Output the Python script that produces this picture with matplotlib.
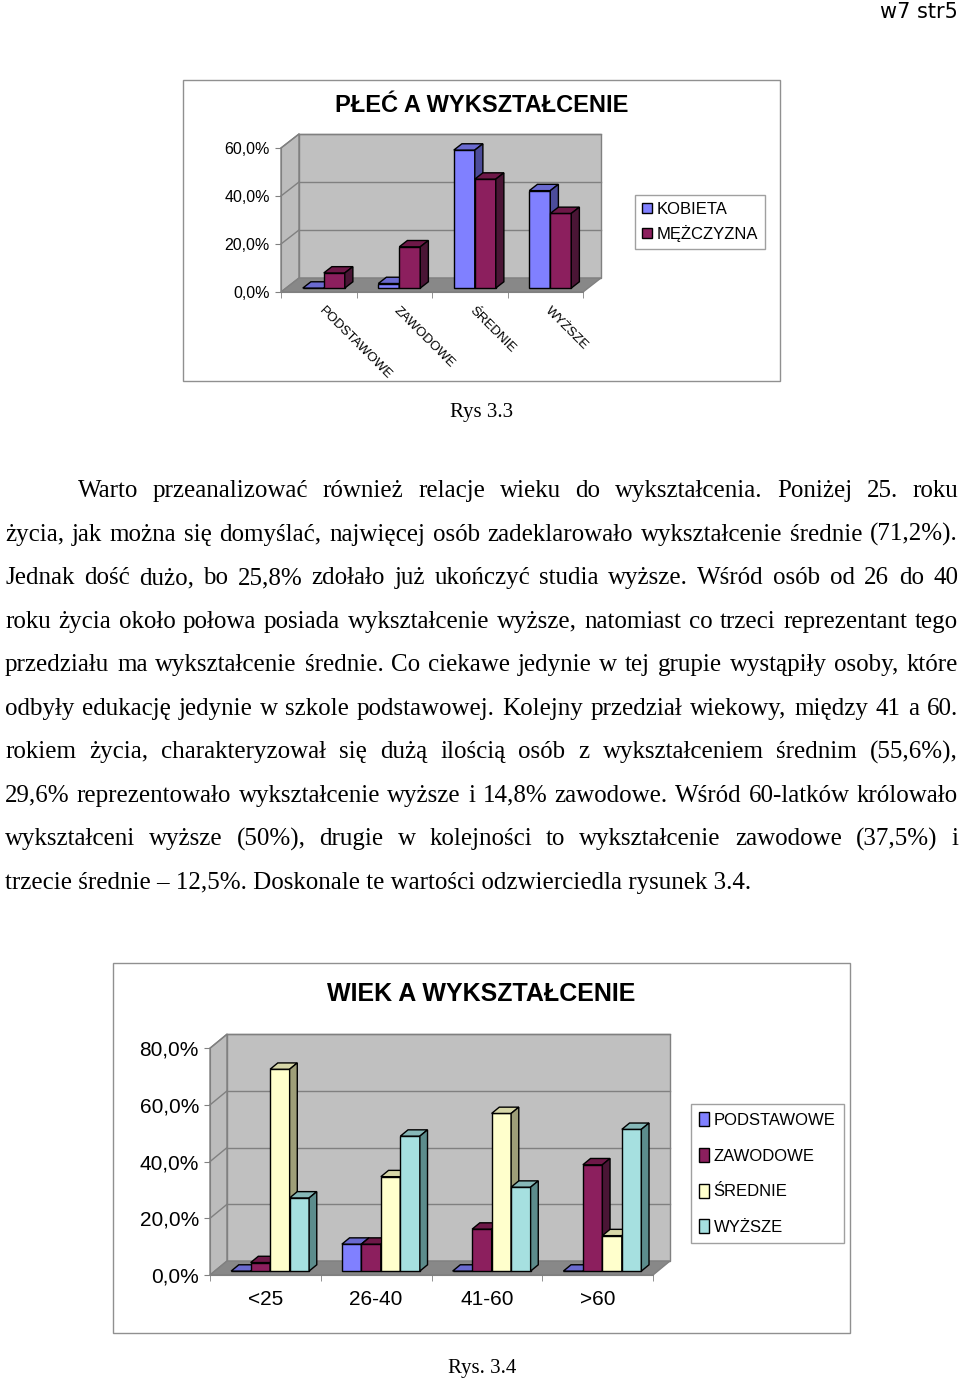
import matplotlib
matplotlib.use('Agg')
import matplotlib.pyplot as plt
from matplotlib.patches import Polygon, Rectangle

# DATA
edu_cats = ['PODSTAWOWE', 'ZAWODOWE', 'ŚREDNIE', 'WYŻSZE']
gender_names = ['KOBIETA', 'MĘŻCZYZNA']
kobieta = [0.0, 1.9, 57.5, 40.6]
mezczyzna = [6.3, 17.2, 45.4, 31.1]

age_cats = ['<25', '26-40', '41-60', '>60']
age_names = ['PODSTAWOWE', 'ZAWODOWE', 'ŚREDNIE', 'WYŻSZE']
podstawowe = [0.0, 9.5, 0.0, 0.0]
zawodowe = [3.0, 9.5, 14.8, 37.5]
srednie = [71.2, 33.3, 55.6, 12.5]
wyzsze = [25.8, 47.6, 29.6, 50.0]

para_lines = [
    'Warto przeanalizować również relacje wieku do wykształcenia. Poniżej 25. roku',
    'życia, jak można się domyślać, najwięcej osób zadeklarowało wykształcenie średnie (71,2%).',
    'Jednak dość dużo, bo 25,8% zdołało już ukończyć studia wyższe. Wśród osób od 26 do 40',
    'roku życia około połowa posiada wykształcenie wyższe, natomiast co trzeci reprezentant tego',
    'przedziału ma wykształcenie średnie. Co ciekawe jedynie w tej grupie wystąpiły osoby, które',
    'odbyły edukację jedynie w szkole podstawowej. Kolejny przedział wiekowy, między 41 a 60.',
    'rokiem życia, charakteryzował się dużą ilością osób z wykształceniem średnim (55,6%),',
    '29,6% reprezentowało wykształcenie wyższe i 14,8% zawodowe. Wśród 60-latków królowało',
    'wykształceni wyższe (50%), drugie w kolejności to wykształcenie zawodowe (37,5%) i',
    'trzecie średnie – 12,5%. Doskonale te wartości odzwierciedla rysunek 3.4.',
]

# face colours: front, top, side
C_BLUE = ('#8080ff', '#6a6ad0', '#4c4c9a')
C_MAROON = ('#8c1f5e', '#6e1848', '#4a1535')
C_YELLOW = ('#ffffcc', '#d7d7a8', '#9e9e78')
C_CYAN = ('#a6e0e0', '#86b8b8', '#5c8c8c')

W, H = 960, 1381
plt.rc('font', family='Liberation Sans')
fig = plt.figure(figsize=(W / 100, H / 100), dpi=100)


def fx(px):
    return px / W


def fy(py):
    return 1 - py / H


def chart3d(x0, x1, y0, ppu, dxp, dyp, ymax, ystep, cats, series, colors,
            bw, tick_fs):
    n = len(cats)
    cw = (x1 - x0) / n
    dxu = dxp / cw
    dyu = dyp / ppu
    ax = fig.add_axes([fx(x0), fy(y0), (x1 - x0 + dxp) / W,
                       (ymax * ppu + dyp) / H])
    ax.set_xlim(-0.5, n - 0.5 + dxu)
    ax.set_ylim(0, ymax + dyu)
    ax.patch.set_visible(False)
    L, R = -0.5, n - 0.5
    # walls and floor
    ax.add_patch(Polygon([(L, 0), (L + dxu, dyu), (L + dxu, ymax + dyu), (L, ymax)],
                         fc='#bcbcbc', ec='#808080', lw=1, zorder=1, clip_on=False))
    ax.add_patch(Rectangle((L + dxu, dyu), n, ymax, fc='#c0c0c0', ec='#808080',
                           lw=1, zorder=1, clip_on=False))
    ax.add_patch(Polygon([(L, 0), (R, 0), (R + dxu, dyu), (L + dxu, dyu)],
                         fc='#888888', ec='#808080', lw=1, zorder=1.5, clip_on=False))
    ticks = list(range(0, int(ymax) + 1, ystep))
    for t in ticks[1:]:
        ax.plot([L + dxu, R + dxu], [t + dyu, t + dyu], color='#808080', lw=1,
                zorder=1.2, clip_on=False)
        ax.plot([L, L + dxu], [t, t + dyu], color='#808080', lw=1, zorder=1.2,
                clip_on=False)

    # bars: front, top, side
    f0, bd = 0.28, 0.45
    ns = len(series)
    z = 3
    for i in range(n):
        for s in range(ns):
            v = series[s][i]
            fc, tc, sc = colors[s]
            bx = i - ns * bw / 2 + s * bw + f0 * dxu
            by = f0 * dyu
            ax.add_patch(Rectangle((bx, by), bw, v, fc=fc, ec='black', lw=1,
                                   zorder=z, clip_on=False))
            ax.add_patch(Polygon([(bx, by + v), (bx + bw, by + v),
                                  (bx + bw + bd * dxu, by + v + bd * dyu),
                                  (bx + bd * dxu, by + v + bd * dyu)],
                                 fc=tc, ec='black', lw=1, zorder=z, clip_on=False))
            ax.add_patch(Polygon([(bx + bw, by), (bx + bw + bd * dxu, by + bd * dyu),
                                  (bx + bw + bd * dxu, by + v + bd * dyu),
                                  (bx + bw, by + v)],
                                 fc=sc, ec='black', lw=1, zorder=z, clip_on=False))
            z += 1

    for sp in ['top', 'right']:
        ax.spines[sp].set_visible(False)
    ax.spines['left'].set_bounds(0, ymax)
    ax.spines['bottom'].set_bounds(L, R)
    for sp in ['left', 'bottom']:
        ax.spines[sp].set_color('#808080')
        ax.spines[sp].set_zorder(2)
    ax.set_yticks(ticks, [f'{t:.1f}%'.replace('.', ',') for t in ticks])
    ax.tick_params(axis='y', length=4, color='#808080', labelsize=tick_fs, pad=4)
    ax.set_xticks([k + 0.5 for k in range(-1, n)], minor=True)
    ax.tick_params(axis='x', which='minor', length=4, color='#808080')
    return ax


# CHART 1
fig.add_artist(Rectangle((fx(183), fy(381)), (780 - 183) / W, (381 - 80) / H,
                         transform=fig.transFigure, fill=False, ec='#909090', lw=1))
fig.text(fx(482), fy(105), 'PŁEĆ A WYKSZTAŁCENIE', ha='center', va='center',
         fontsize=17, fontweight='bold')
ax1 = chart3d(281, 583, 292, 2.4, 18, 14, 60, 20, edu_cats,
              [kobieta, mezczyzna], [C_BLUE, C_MAROON], 0.278, 11.5)
ax1.set_xticks([k + 0.08 for k in range(len(edu_cats))], edu_cats)
ax1.tick_params(axis='x', which='major', length=0, labelsize=9.5, pad=9)
plt.setp(ax1.get_xticklabels(), rotation=-45, ha='left', va='top',
         rotation_mode='anchor')
h1 = [Rectangle((0, 0), 1, 1, fc=c[0], ec='black', lw=1) for c in [C_BLUE, C_MAROON]]
fig.legend(h1, gender_names, loc='upper left', bbox_to_anchor=(fx(635), fy(195)),
           fontsize=12, frameon=True, fancybox=False, edgecolor='#a0a0a0',
           framealpha=1, handlelength=0.6, handleheight=0.6, handletextpad=0.3,
           labelspacing=0.5, borderpad=0.4, borderaxespad=0)

fig.text(fx(482), fy(413), 'Rys 3.3', ha='center', va='center', fontsize=15,
         family='Liberation Serif')

# PARAGRAPH (justified)
renderer = fig.canvas.get_renderer()
for i, line in enumerate(para_lines):
    yb = fy(497 + 43.56 * i)
    left = 78 if i == 0 else 5
    if i == len(para_lines) - 1:
        fig.text(fx(left), yb, line, fontsize=18, family='Liberation Serif',
                 va='baseline', ha='left')
        continue
    words = line.split(' ')
    texts = [fig.text(0, yb, w, fontsize=18, family='Liberation Serif',
                      va='baseline', ha='left') for w in words]
    widths = [t.get_window_extent(renderer).width for t in texts]
    gap = (958 - left - sum(widths)) / (len(words) - 1)
    x = left
    for t, w in zip(texts, widths):
        t.set_x(fx(x))
        x += w + gap

# CHART 2
fig.add_artist(Rectangle((fx(113), fy(1333)), (850 - 113) / W, (1333 - 963) / H,
                         transform=fig.transFigure, fill=False, ec='#909090', lw=1))
fig.text(fx(481), fy(994), 'WIEK A WYKSZTAŁCENIE', ha='center', va='center',
         fontsize=18, fontweight='bold')
ax2 = chart3d(210, 653, 1275, 2.835, 17, 14, 80, 20, age_cats,
              [podstawowe, zawodowe, srednie, wyzsze],
              [C_BLUE, C_MAROON, C_YELLOW, C_CYAN], 0.176, 15)
ax2.set_xticks(range(len(age_cats)), age_cats)
ax2.tick_params(axis='x', which='major', length=0, labelsize=15, pad=11)
h2 = [Rectangle((0, 0), 1, 1, fc=c[0], ec='black', lw=1)
      for c in [C_BLUE, C_MAROON, C_YELLOW, C_CYAN]]
fig.legend(h2, age_names, loc='upper left', bbox_to_anchor=(fx(691), fy(1104)),
           fontsize=12, frameon=True, fancybox=False, edgecolor='#a0a0a0',
           framealpha=1, handlelength=0.55, handleheight=0.9, handletextpad=0.3,
           labelspacing=1.2, borderpad=0.5, borderaxespad=0)

fig.text(fx(482), fy(1368), 'Rys. 3.4', ha='center', va='center', fontsize=15,
         family='Liberation Serif')

fig.text(fx(958), fy(12), 'w7 str5', ha='right', va='center', fontsize=15,
         family='DejaVu Sans')

fig.savefig('out.png', dpi=100)
